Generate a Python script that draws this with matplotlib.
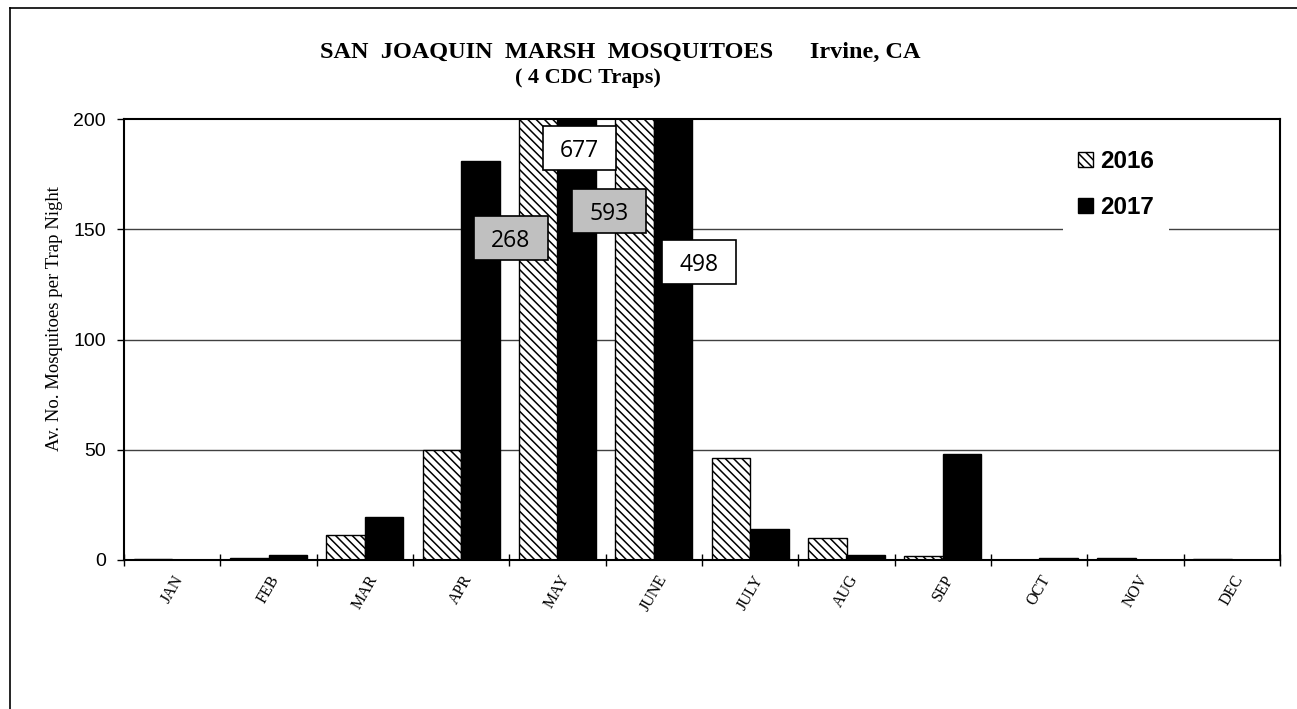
import matplotlib
matplotlib.use("Agg")
import matplotlib.pyplot as plt
import numpy as np
from matplotlib.patches import Rectangle
from matplotlib.lines import Line2D

months = ["JAN", "FEB", "MAR", "APR", "MAY", "JUNE", "JULY", "AUG", "SEP", "OCT", "NOV", "DEC"]
vals_2016 = [0.5, 1.0, 11.3, 50, 268, 593, 46.4, 10.1, 1.8, 0.2, 0.7, 0.3]
vals_2017 = [0.0, 2.1, 19.6, 181, 677, 498, 14, 2.1, 47.9, 1.1, 0.0, 0.0]
series_labels = ["2016", "2017"]
yticks = [0, 50, 100, 150, 200]

plt.rcParams['hatch.linewidth'] = 1.1

W, H = 1297, 709
fig = plt.figure(figsize=(W / 100, H / 100), dpi=100)
ax = fig.add_axes([124 / W, 1 - 560 / H, (1280 - 124) / W, (560 - 119) / H])

# outer frame
fig.add_artist(Line2D([10 / W, 10 / W], [0, 1 - 8 / H], transform=fig.transFigure, color='black', lw=1.2))
fig.add_artist(Line2D([10 / W, 1], [1 - 8 / H, 1 - 8 / H], transform=fig.transFigure, color='black', lw=1.2))

x = np.arange(len(months))
w = 0.4
ax.bar(x - w / 2, vals_2016, w, facecolor='white', edgecolor='black', hatch='\\\\\\\\',
       linewidth=1.0, label=series_labels[0], zorder=2)
ax.bar(x + w / 2, vals_2017, w, facecolor='black', edgecolor='black',
       linewidth=1.0, label=series_labels[1], zorder=2)

ax.set_xlim(-0.5, len(months) - 0.5)
ax.set_ylim(0, 200)
ax.set_yticks(yticks)
ax.set_yticklabels([str(t) for t in yticks], fontfamily='Liberation Sans', fontsize=14)
for t in yticks[1:-1]:
    ax.axhline(t, color='#404040', lw=1.0, zorder=1)

ax.set_xticks(np.arange(len(months) + 1) - 0.5, minor=False)
ax.set_xticklabels([])
ax.set_xticks(x, minor=True)
ax.set_xticklabels(months, minor=True, rotation=60, fontfamily='Liberation Serif', fontsize=11.5,
                   ha='center', va='top')
ax.tick_params(axis='x', which='minor', length=0, pad=9)
ax.tick_params(axis='x', which='major', length=9, direction='inout', width=1)
ax.tick_params(axis='y', length=5, direction='out', width=1, pad=8)
for s in ax.spines.values():
    s.set_linewidth(1.5)

ax.set_ylabel("Av. No. Mosquitoes per Trap Night", fontfamily='Liberation Serif', fontsize=13.5)
ax.yaxis.set_label_coords((55 - 124) / 1156, (560 - 319) / 441)
ax.yaxis.label.set_verticalalignment('center')

fig.text(620 / W, 1 - 58.3 / H, "SAN  JOAQUIN  MARSH  MOSQUITOES      Irvine, CA", ha='center', va='baseline',
         fontfamily='Liberation Serif', fontweight='bold', fontsize=17.5)
fig.text(588 / W, 1 - 83 / H, "( 4 CDC Traps)", ha='center', va='baseline',
         fontfamily='Liberation Serif', fontweight='bold', fontsize=16)

# value boxes for clipped bars
box_w, box_h = 0.766, 20.0
box_specs = [
    (3.517, 146.2, vals_2016[4], '#c0c0c0'),
    (4.228, 186.9, vals_2017[4], 'white'),
    (4.536, 158.3, vals_2016[5], '#c0c0c0'),
    (5.467, 135.0, vals_2017[5], 'white'),
]
for bx, by, v, fc in box_specs:
    ax.add_patch(Rectangle((bx - box_w / 2, by - box_h / 2), box_w, box_h, facecolor=fc,
                           edgecolor='black', linewidth=1.2, zorder=5, clip_on=False))
    ax.text(bx, by, f"{v:.0f}", ha='center', va='center_baseline', fontfamily='Open Sans', fontsize=16.5,
            zorder=6)

leg = ax.legend(loc='upper left', bbox_to_anchor=((1063 - 124) / 1156, (560 - 135) / 441), frameon=True,
                fancybox=False, edgecolor='none', facecolor='white', framealpha=1,
                prop={'family': 'Liberation Sans', 'weight': 'bold', 'size': 17.5},
                handlelength=0.6, handleheight=0.55, handletextpad=0.3, labelspacing=0.95,
                borderpad=0.62, borderaxespad=0)
leg.set_zorder(7)

fig.savefig("out.png", dpi=100)
